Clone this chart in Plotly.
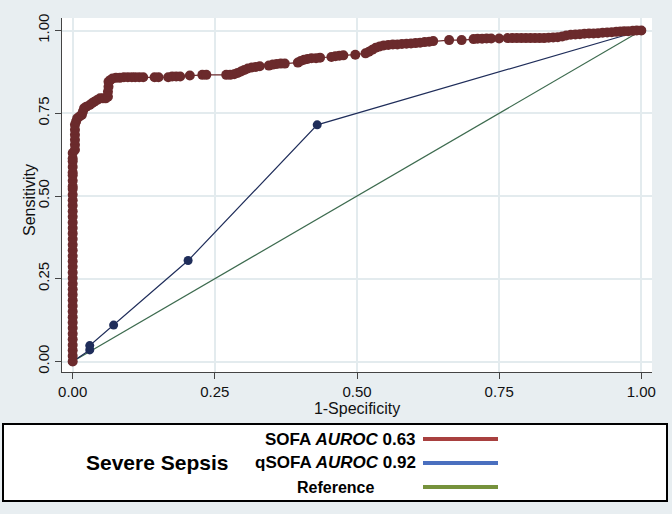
import plotly.graph_objects as go

# ---------------- data ----------------
sofa_x = [0, 0, 0, 0, 0, 0, 0, 0, 0, 0, 0, 0, 0, 0, 0, 0, 0, 0, 0, 0, 0, 0, 0, 0, 0, 0, 0, 0, 0, 0, 0, 0,
          0, 0, 0, 0, 0, 0, 0, 0,
          0.004, 0.004, 0.004, 0.004, 0.004, 0.004, 0.006, 0.008, 0.012, 0.016, 0.018, 0.02, 0.024, 0.03,
          0.034, 0.038, 0.043, 0.048, 0.053, 0.058, 0.062, 0.062, 0.063, 0.063, 0.066, 0.07, 0.076, 0.083,
          0.09, 0.097, 0.104, 0.11, 0.117, 0.124, 0.144, 0.151, 0.168, 0.175, 0.182, 0.189, 0.206, 0.228,
          0.235, 0.27, 0.277, 0.284, 0.29, 0.296, 0.302, 0.308, 0.315, 0.322, 0.329, 0.345, 0.352, 0.359,
          0.366, 0.373, 0.396, 0.401, 0.407, 0.413, 0.42, 0.428, 0.435, 0.455, 0.462, 0.469, 0.476, 0.497,
          0.515, 0.521, 0.527, 0.533, 0.54, 0.547, 0.555, 0.563, 0.571, 0.579, 0.587, 0.595, 0.603, 0.611,
          0.619, 0.627, 0.634, 0.662, 0.684, 0.705, 0.712, 0.72, 0.728, 0.736, 0.75, 0.765, 0.773, 0.781,
          0.789, 0.797, 0.805, 0.813, 0.821, 0.829, 0.837, 0.845, 0.853, 0.861, 0.868, 0.876, 0.884, 0.892,
          0.9, 0.908, 0.916, 0.924, 0.932, 0.94, 0.948, 0.956, 0.963, 0.97, 0.977, 0.985, 0.992, 1.0]
sofa_y = [0, 0.017, 0.034, 0.05, 0.067, 0.084, 0.101, 0.118, 0.134, 0.151, 0.168, 0.185, 0.202, 0.218,
          0.235, 0.252, 0.269, 0.286, 0.303, 0.319, 0.336, 0.353, 0.37, 0.387, 0.403, 0.42, 0.437, 0.454,
          0.471, 0.487, 0.504, 0.521,
          0.529, 0.546, 0.563, 0.571, 0.588, 0.605, 0.613, 0.63,
          0.64, 0.655, 0.67, 0.685, 0.70, 0.715, 0.725, 0.735, 0.74, 0.745, 0.755, 0.765, 0.77, 0.775,
          0.78, 0.785, 0.79, 0.795, 0.795, 0.795, 0.80, 0.815, 0.83, 0.845, 0.85, 0.855, 0.857, 0.857,
          0.859, 0.859, 0.859, 0.859, 0.859, 0.859, 0.859, 0.859, 0.859, 0.861, 0.861, 0.861, 0.864, 0.866,
          0.866, 0.866, 0.866, 0.868, 0.872, 0.876, 0.881, 0.885, 0.888, 0.89, 0.892, 0.894, 0.897, 0.899,
          0.9, 0.9, 0.903, 0.908, 0.912, 0.914, 0.916, 0.916, 0.918, 0.92, 0.922, 0.924, 0.925, 0.927,
          0.931, 0.936, 0.942, 0.948, 0.952, 0.955, 0.956, 0.958, 0.958, 0.959, 0.96, 0.961, 0.962, 0.963,
          0.965, 0.966, 0.968, 0.971, 0.971, 0.974, 0.975, 0.975, 0.976, 0.976, 0.976, 0.977, 0.977, 0.977,
          0.977, 0.977, 0.977, 0.977, 0.977, 0.977, 0.978, 0.979, 0.98, 0.982, 0.985, 0.987, 0.988, 0.989,
          0.99, 0.991, 0.991, 0.992, 0.993, 0.994, 0.995, 0.996, 0.997, 0.998, 0.998, 0.999, 1.0, 1.0]

qsofa_x = [0, 0.03, 0.03, 0.072, 0.203, 0.43, 1.0]
qsofa_y = [0, 0.035, 0.048, 0.11, 0.305, 0.715, 1.0]

ref_x = [0, 1]
ref_y = [0, 1]

tick_vals = [0, 0.25, 0.5, 0.75, 1.0]
tick_text = ["0.00", "0.25", "0.50", "0.75", "1.00"]

legend_labels = ["<b>SOFA <i>AUROC</i> 0.63</b>", "<b>qSOFA <i>AUROC</i> 0.92</b>", "<b>Reference</b>"]
legend_colors = ["#a8403f", "#4a6fbf", "#76923c"]
legend_title = "<b>Severe Sepsis</b>"

# ---------------- layout helpers ----------------
W, H = 672, 514
ML, MR, MT, MB = 62, 20, 18, 142
PW, PH = W - ML - MR, H - MT - MB


def px(x):
    return (x - ML) / PW


def py(y):
    return (H - MB - y) / PH


fig = go.Figure()
fig.add_trace(go.Scatter(x=ref_x, y=ref_y, mode="lines",
                         line=dict(color="#3d6b4f", width=1.2), showlegend=False))
fig.add_trace(go.Scatter(x=qsofa_x, y=qsofa_y, mode="lines+markers",
                         line=dict(color="#1f2d5a", width=1.2),
                         marker=dict(color="#1f2d5a", size=9), showlegend=False))
fig.add_trace(go.Scatter(x=sofa_x, y=sofa_y, mode="lines+markers",
                         line=dict(color="#6b2a2c", width=1.2),
                         marker=dict(color="#6b2a2c", size=10), showlegend=False))

axis_common = dict(
    tickvals=tick_vals, ticktext=tick_text,
    showgrid=True, gridcolor="#e3ebee", gridwidth=1.5,
    zeroline=False, showline=True, linecolor="#444444", linewidth=1,
    ticks="outside", ticklen=6, tickcolor="#444444",
    tickfont=dict(family="Liberation Sans, Arial", size=15, color="#111111"),
    automargin=False,
)
fig.update_xaxes(range=[-0.0188, 1.0188], **axis_common,
                 title=dict(text="1-Specificity", standoff=2,
                            font=dict(family="Liberation Sans, Arial", size=16, color="#111111")))
fig.update_yaxes(range=[-0.0317, 1.0378], tickangle=-90, **axis_common)

LEG_FONT = "Liberation Sans, Arial"
annotations = [
    dict(text="Sensitivity", textangle=-90, xref="paper", yref="paper",
         x=px(29), y=py(200), showarrow=False, xanchor="center", yanchor="middle",
         font=dict(family="Liberation Sans, Arial", size=16, color="#111111")),
    dict(text=legend_title, xref="paper", yref="paper", x=px(157), y=py(463),
         showarrow=False, xanchor="center", yanchor="middle",
         font=dict(family=LEG_FONT, size=21, color="#000000")),
]
shapes = [
    dict(type="rect", xref="paper", yref="paper", x0=px(3), x1=px(667), y0=py(424), y1=py(501),
         line=dict(color="#000000", width=2), fillcolor="#ffffff", layer="below"),
]
rows_y = [439, 463, 487]
for lab, col, ry in zip(legend_labels, legend_colors, rows_y):
    if "Reference" in lab:
        annotations.append(dict(text=lab, xref="paper", yref="paper", x=px(335), y=py(ry),
                                showarrow=False, xanchor="center", yanchor="middle",
                                font=dict(family=LEG_FONT, size=16, color="#000000")))
    else:
        annotations.append(dict(text=lab, xref="paper", yref="paper", x=px(418), y=py(ry),
                                showarrow=False, xanchor="right", yanchor="middle",
                                font=dict(family=LEG_FONT, size=17, color="#000000")))
    shapes.append(dict(type="line", xref="paper", yref="paper", x0=px(423), x1=px(498),
                       y0=py(ry), y1=py(ry), line=dict(color=col, width=4)))

fig.update_layout(
    width=W, height=H,
    margin=dict(l=ML, r=MR, t=MT, b=MB, pad=0),
    paper_bgcolor="#e8eef1", plot_bgcolor="#ffffff",
    annotations=annotations, shapes=shapes,
    showlegend=False,
)

fig.write_html("out.html", config={"displayModeBar": False},
               post_script="document.body.style.margin='0px';")
